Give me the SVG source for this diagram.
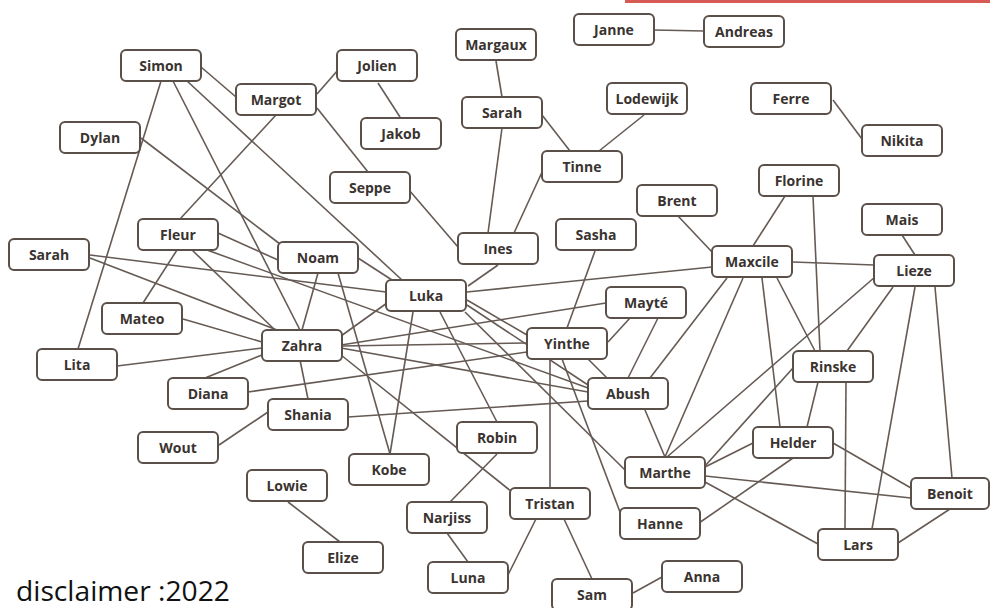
<svg xmlns="http://www.w3.org/2000/svg" width="990" height="608" viewBox="0 0 990 608">
<style>
.n rect{fill:#fff;stroke:#5a4f49;stroke-width:2}
.n text{font-family:"Open Sans","Liberation Sans",sans-serif;font-weight:bold;font-size:14px;fill:#3a3330;text-anchor:middle;dominant-baseline:central}
#edges line{stroke:#655a54;stroke-width:1.6}
</style>
<rect width="990" height="608" fill="#fff"/>
<rect x="625" y="0" width="365" height="3" fill="#d85a55"/>
<g id="edges">
<line x1="654" y1="30" x2="704" y2="31"/>
<line x1="833" y1="100" x2="862" y2="139"/>
<line x1="496" y1="61" x2="502" y2="97"/>
<line x1="542" y1="115" x2="570" y2="151"/>
<line x1="502" y1="128" x2="488" y2="233"/>
<line x1="543" y1="170" x2="514" y2="233"/>
<line x1="644" y1="115" x2="599" y2="151"/>
<line x1="338" y1="70" x2="317" y2="94"/>
<line x1="378" y1="83" x2="400" y2="117"/>
<line x1="201" y1="67" x2="236" y2="97"/>
<line x1="317" y1="108" x2="368" y2="172"/>
<line x1="409" y1="190" x2="458" y2="247"/>
<line x1="276" y1="115" x2="180" y2="219"/>
<line x1="161" y1="81" x2="78" y2="349"/>
<line x1="173" y1="81" x2="300" y2="330"/>
<line x1="187" y1="81" x2="402" y2="280"/>
<line x1="141" y1="138" x2="280" y2="244"/>
<line x1="218" y1="233" x2="278" y2="260"/>
<line x1="207" y1="250" x2="588" y2="388"/>
<line x1="177" y1="250" x2="143" y2="303"/>
<line x1="192" y1="250" x2="275" y2="330"/>
<line x1="90" y1="255" x2="386" y2="292"/>
<line x1="90" y1="258" x2="277" y2="330"/>
<line x1="183" y1="319" x2="262" y2="342"/>
<line x1="117" y1="366" x2="262" y2="348"/>
<line x1="205" y1="378" x2="262" y2="355"/>
<line x1="248" y1="392" x2="527" y2="352"/>
<line x1="318" y1="273" x2="302" y2="330"/>
<line x1="338" y1="273" x2="390" y2="454"/>
<line x1="358" y1="258" x2="392" y2="280"/>
<line x1="387" y1="303" x2="341" y2="336"/>
<line x1="413" y1="312" x2="390" y2="454"/>
<line x1="440" y1="312" x2="497" y2="422"/>
<line x1="468" y1="286" x2="498" y2="265"/>
<line x1="467" y1="292" x2="712" y2="267"/>
<line x1="467" y1="300" x2="527" y2="335"/>
<line x1="467" y1="305" x2="588" y2="385"/>
<line x1="465" y1="312" x2="625" y2="470"/>
<line x1="341" y1="345" x2="606" y2="303"/>
<line x1="341" y1="346" x2="527" y2="343"/>
<line x1="341" y1="348" x2="588" y2="392"/>
<line x1="341" y1="355" x2="512" y2="492"/>
<line x1="300" y1="360" x2="308" y2="399"/>
<line x1="268" y1="412" x2="219" y2="445"/>
<line x1="348" y1="417" x2="588" y2="401"/>
<line x1="288" y1="502" x2="340" y2="542"/>
<line x1="497" y1="454" x2="450" y2="502"/>
<line x1="447" y1="533" x2="468" y2="562"/>
<line x1="536" y1="519" x2="508" y2="575"/>
<line x1="564" y1="519" x2="592" y2="579"/>
<line x1="633" y1="593" x2="662" y2="577"/>
<line x1="550" y1="359" x2="550" y2="488"/>
<line x1="562" y1="359" x2="620" y2="512"/>
<line x1="588" y1="359" x2="607" y2="378"/>
<line x1="630" y1="318" x2="608" y2="342"/>
<line x1="658" y1="318" x2="628" y2="378"/>
<line x1="595" y1="251" x2="567" y2="328"/>
<line x1="645" y1="410" x2="665" y2="457"/>
<line x1="727" y1="278" x2="650" y2="378"/>
<line x1="743" y1="278" x2="665" y2="457"/>
<line x1="762" y1="278" x2="780" y2="427"/>
<line x1="777" y1="278" x2="815" y2="351"/>
<line x1="793" y1="262" x2="874" y2="265"/>
<line x1="678" y1="216" x2="712" y2="252"/>
<line x1="785" y1="196" x2="753" y2="246"/>
<line x1="813" y1="196" x2="820" y2="351"/>
<line x1="902" y1="235" x2="915" y2="255"/>
<line x1="893" y1="287" x2="847" y2="351"/>
<line x1="875" y1="277" x2="667" y2="457"/>
<line x1="793" y1="368" x2="705" y2="466"/>
<line x1="818" y1="382" x2="807" y2="427"/>
<line x1="846" y1="382" x2="845" y2="529"/>
<line x1="915" y1="287" x2="872" y2="529"/>
<line x1="935" y1="287" x2="952" y2="478"/>
<line x1="753" y1="443" x2="705" y2="467"/>
<line x1="793" y1="458" x2="699" y2="523"/>
<line x1="833" y1="443" x2="911" y2="488"/>
<line x1="705" y1="476" x2="911" y2="498"/>
<line x1="705" y1="482" x2="818" y2="544"/>
<line x1="950" y1="509" x2="898" y2="543"/>
</g>
<g id="simon" class="n"><rect x="121" y="50" width="80" height="31" rx="5"/><text x="161" y="65.5">Simon</text></g>
<g id="margot" class="n"><rect x="236" y="84" width="80" height="31" rx="5"/><text x="276" y="99.5">Margot</text></g>
<g id="dylan" class="n"><rect x="60" y="122" width="80" height="31" rx="5"/><text x="100" y="137.5">Dylan</text></g>
<g id="jolien" class="n"><rect x="337" y="50" width="80" height="31" rx="5"/><text x="377" y="65.5">Jolien</text></g>
<g id="jakob" class="n"><rect x="361" y="118" width="80" height="31" rx="5"/><text x="401" y="133.5">Jakob</text></g>
<g id="seppe" class="n"><rect x="330" y="172" width="80" height="31" rx="5"/><text x="370" y="187.5">Seppe</text></g>
<g id="margaux" class="n"><rect x="456" y="29" width="80" height="31" rx="5"/><text x="496" y="44.5">Margaux</text></g>
<g id="sarah-top" class="n"><rect x="462" y="97" width="80" height="31" rx="5"/><text x="502" y="112.5">Sarah</text></g>
<g id="janne" class="n"><rect x="574" y="14" width="80" height="31" rx="5"/><text x="614" y="29.5">Janne</text></g>
<g id="andreas" class="n"><rect x="704" y="16" width="80" height="31" rx="5"/><text x="744" y="31.5">Andreas</text></g>
<g id="lodewijk" class="n"><rect x="607" y="83" width="80" height="31" rx="5"/><text x="647" y="98.5">Lodewijk</text></g>
<g id="tinne" class="n"><rect x="542" y="151" width="80" height="31" rx="5"/><text x="582" y="166.5">Tinne</text></g>
<g id="ferre" class="n"><rect x="751" y="83" width="80" height="31" rx="5"/><text x="791" y="98.5">Ferre</text></g>
<g id="nikita" class="n"><rect x="862" y="125" width="80" height="31" rx="5"/><text x="902" y="140.5">Nikita</text></g>
<g id="florine" class="n"><rect x="759" y="165" width="80" height="31" rx="5"/><text x="799" y="180.5">Florine</text></g>
<g id="brent" class="n"><rect x="637" y="185" width="80" height="31" rx="5"/><text x="677" y="200.5">Brent</text></g>
<g id="mais" class="n"><rect x="862" y="204" width="80" height="31" rx="5"/><text x="902" y="219.5">Mais</text></g>
<g id="lieze" class="n"><rect x="874" y="255" width="80" height="31" rx="5"/><text x="914" y="270.5">Lieze</text></g>
<g id="maxcile" class="n"><rect x="712" y="246" width="80" height="31" rx="5"/><text x="752" y="261.5">Maxcile</text></g>
<g id="rinske" class="n"><rect x="793" y="351" width="80" height="31" rx="5"/><text x="833" y="366.5">Rinske</text></g>
<g id="sasha" class="n"><rect x="556" y="219" width="80" height="31" rx="5"/><text x="596" y="234.5">Sasha</text></g>
<g id="ines" class="n"><rect x="458" y="233" width="80" height="31" rx="5"/><text x="498" y="248.5">Ines</text></g>
<g id="luka" class="n"><rect x="386" y="280" width="80" height="31" rx="5"/><text x="426" y="295.5">Luka</text></g>
<g id="mayte" class="n"><rect x="606" y="287" width="80" height="31" rx="5"/><text x="646" y="302.5">Mayté</text></g>
<g id="yinthe" class="n"><rect x="527" y="328" width="80" height="31" rx="5"/><text x="567" y="343.5">Yinthe</text></g>
<g id="abush" class="n"><rect x="588" y="378" width="80" height="31" rx="5"/><text x="628" y="393.5">Abush</text></g>
<g id="noam" class="n"><rect x="278" y="242" width="80" height="31" rx="5"/><text x="318" y="257.5">Noam</text></g>
<g id="fleur" class="n"><rect x="138" y="219" width="80" height="31" rx="5"/><text x="178" y="234.5">Fleur</text></g>
<g id="sarah-left" class="n"><rect x="9" y="239" width="80" height="31" rx="5"/><text x="49" y="254.5">Sarah</text></g>
<g id="mateo" class="n"><rect x="102" y="303" width="80" height="31" rx="5"/><text x="142" y="318.5">Mateo</text></g>
<g id="zahra" class="n"><rect x="262" y="330" width="80" height="31" rx="5"/><text x="302" y="345.5">Zahra</text></g>
<g id="lita" class="n"><rect x="37" y="349" width="80" height="31" rx="5"/><text x="77" y="364.5">Lita</text></g>
<g id="diana" class="n"><rect x="168" y="378" width="80" height="31" rx="5"/><text x="208" y="393.5">Diana</text></g>
<g id="shania" class="n"><rect x="268" y="399" width="80" height="31" rx="5"/><text x="308" y="414.5">Shania</text></g>
<g id="wout" class="n"><rect x="138" y="432" width="80" height="31" rx="5"/><text x="178" y="447.5">Wout</text></g>
<g id="lowie" class="n"><rect x="247" y="470" width="80" height="31" rx="5"/><text x="287" y="485.5">Lowie</text></g>
<g id="elize" class="n"><rect x="303" y="542" width="80" height="31" rx="5"/><text x="343" y="557.5">Elize</text></g>
<g id="kobe" class="n"><rect x="349" y="454" width="80" height="31" rx="5"/><text x="389" y="469.5">Kobe</text></g>
<g id="robin" class="n"><rect x="457" y="422" width="80" height="31" rx="5"/><text x="497" y="437.5">Robin</text></g>
<g id="narjiss" class="n"><rect x="407" y="502" width="80" height="31" rx="5"/><text x="447" y="517.5">Narjiss</text></g>
<g id="tristan" class="n"><rect x="510" y="488" width="80" height="31" rx="5"/><text x="550" y="503.5">Tristan</text></g>
<g id="luna" class="n"><rect x="428" y="562" width="80" height="31" rx="5"/><text x="468" y="577.5">Luna</text></g>
<g id="sam" class="n"><rect x="552" y="579" width="80" height="31" rx="5"/><text x="592" y="594.5">Sam</text></g>
<g id="marthe" class="n"><rect x="625" y="457" width="80" height="31" rx="5"/><text x="665" y="472.5">Marthe</text></g>
<g id="hanne" class="n"><rect x="620" y="508" width="80" height="31" rx="5"/><text x="660" y="523.5">Hanne</text></g>
<g id="anna" class="n"><rect x="662" y="561" width="80" height="31" rx="5"/><text x="702" y="576.5">Anna</text></g>
<g id="helder" class="n"><rect x="753" y="427" width="80" height="31" rx="5"/><text x="793" y="442.5">Helder</text></g>
<g id="benoit" class="n"><rect x="911" y="478" width="78" height="31" rx="5"/><text x="950" y="493.5">Benoit</text></g>
<g id="lars" class="n"><rect x="818" y="529" width="80" height="31" rx="5"/><text x="858" y="544.5">Lars</text></g>
<text x="16" y="601" font-family="'Open Sans','Liberation Sans',sans-serif" font-size="27" fill="#111" textLength="214" lengthAdjust="spacingAndGlyphs">disclaimer :2022</text>
</svg>
